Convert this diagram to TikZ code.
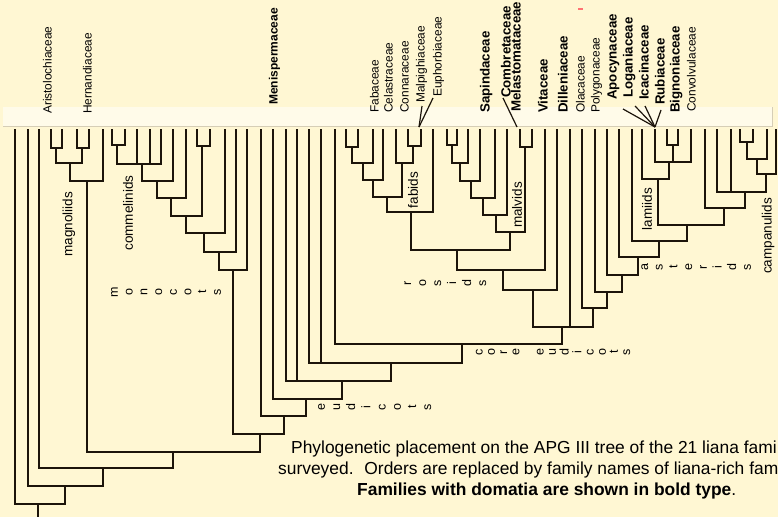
\documentclass[tikz,border=0pt]{standalone}
\usepackage{fontspec}
\setsansfont{Liberation Sans}
\definecolor{paper}{RGB}{255,247,211}
\definecolor{band}{RGB}{255,251,233}
\definecolor{bandedge}{RGB}{214,206,182}
\definecolor{ink}{RGB}{28,20,10}
\tikzset{
  branch/.style={line width=2.8pt, draw=ink, line join=miter},
  leader/.style={line width=1.2pt, draw=ink},
  fam/.style={rotate=90, anchor=west, inner sep=0pt, text height=0.72em, text depth=0.2em,
    font=\sffamily\fontsize{11.9}{12}\selectfont},
  bfam/.style={fam, font=\sffamily\bfseries\fontsize{13.3}{14}\selectfont},
  cladename/.style={rotate=90, inner sep=0pt, font=\sffamily\fontsize{13.5}{14}\selectfont},
  spread/.style={rotate=90, inner sep=0pt, font=\sffamily\fontsize{12.5}{#1}\selectfont},
  caption/.style={anchor=base west, inner sep=0pt, font=\sffamily\fontsize{17.4}{18}\selectfont}
}
\begin{document}
\begin{tikzpicture}[x=1pt,y=-1pt,font=\sffamily]
    \useasboundingbox (0,0) rectangle (778,517);
    \fill[paper] (0,0) rectangle (778,517);

    % header band behind the family names
    \fill[band] (3,107) rectangle (772,126);
    \draw[bandedge,line width=0.7pt] (3,126.5) -- (772,126.5) -- (772,107);
    \fill[red!55] (578,8) rectangle (583,10);

    % tips
    \foreach \n/\x in {amb/15, nym/28, aus/39, ari/51, mg2/62, mg3/77, her/89, chl/103,
        mo1/112, mo2/125, mo3/137, mo4/150, mo5/161, mo6/173, mo7/186, mo8/197, mo9/210,
        mo10/225, mo11/236, mo12/247, cer/261, men/273, eu1/286, eu2/297, eu3/309, eu4/321,
        eu5/335, fa1/346, fa2/358, fa3/373, fa4/383, fa5/396, fa6/408, fa7/421, fa8/433,
        ma1/447, ma2/457, ma3/468, ma4/480, ma5/495, ma6/507, ma7/520, ma8/532, vit/545,
        sax/557, dil/570, ola/582, pol/595, as1/607, as2/619, as3/632, la1/642, la2/655,
        la3/667, la4/678, la5/691, ca1/705, ca2/717, ca3/731, ca4/740, ca5/753, ca6/767, ca7/776}
      \coordinate (\n) at (\x,129);

    % clades
    \foreach \n/\x/\y in {m1/56/148, m2/82/148, m3/70/163, mag/87/181,
        c1/117/145, c2/142/164, c3/157/181, c4/171/198, c5/202/146, c6/186/216, c7/204/233,
        c8/219/252, mon/233/270,
        f1/352/147, f2/363/163, f3/373/180, f4/413/146, f5/402/163, f6/387/197, fab/411/212,
        v1/452/145, v2/460/163, v3/471/181, v4/483/198, v5/496/215, v6/525/147, mal/510/232,
        ros/457/250, r1/503/270, r2/533/290,
        l1/673/145, l2/669/162, lam/658/179, k1/747/142, k2/757/159, k3/766/174, k4/745/192,
        cam/724/208, a1/687/225, a2/659/241, ast/638/257, a3/622/275, a4/607/292, sup/593/308,
        core/562/327, e1/462/344, e2/391/363, e3/342/381, eud/306/399, e4/284/416, e5/260/434,
        e6/173/452, e7/103/468, e8/65/486, e9/38/504, root/38/517}
      \coordinate (\n) at (\x,\y);
    \coordinate (fa7top) at (419,127);
    \coordinate (ma7top) at (517,127);
    \coordinate (la2top) at (655,127);

    % family names
    \node[fam] (aris) at (49,114) {Aristolochiaceae};
    \node[fam] (hern) at (89,114) {Hernandiaceae};
    \node[bfam,font=\sffamily\bfseries\fontsize{12}{12}\selectfont] (meni) at (275,105) {Menispermaceae};
    \node[fam] (faba) at (376,113) {Fabaceae};
    \node[fam] (cela) at (390,113) {Celastraceae};
    \node[fam] (conn) at (406,113) {Connaraceae};
    \node[fam] (malp) at (422,103) {Malpighiaceae};
    \node[fam] (euph) at (439,97) {Euphorbiaceae};
    \node[bfam] (sapi) at (487,113) {Sapindaceae};
    \node[bfam] (comb) at (508,98) {Combretaceae};
    \node[bfam] (mela) at (518,112) {Melastomataceae};
    \node[bfam] (vita) at (545,113) {Vitaceae};
    \node[bfam] (dill) at (565,113) {Dilleniaceae};
    \node[fam] (olac) at (582,113) {Olacaceae};
    \node[fam] (poly) at (597,113) {Polygonaceae};
    \node[bfam] (apoc) at (614,100) {Apocynaceae};
    \node[bfam] (loga) at (630,98) {Loganiaceae};
    \node[bfam] (icac) at (646,100) {Icacinaceae};
    \node[bfam] (rubi) at (662,105) {Rubiaceae};
    \node[bfam] (bign) at (677,113) {Bignoniaceae};
    \node[fam] (conv) at (693,112) {Convolvulaceae};

    \draw[leader] ([shift={(0,3)}]malp.west) -- (fa7top);
    \draw[leader] ([shift={(-6,1)}]euph.west) -- (fa7top);
    \draw[leader] ([shift={(-5,0)}]comb.west) -- (ma7top);
    \draw[leader] ([shift={(9,9)}]apoc.west) -- (la2top);
    \draw[leader] ([shift={(5,8)}]loga.west) -- (la2top);
    \draw[leader] ([shift={(-1,6)}]icac.west) -- (la2top);
    \draw[leader] ([shift={(-1,5)}]rubi.west) -- (la2top);

    % clade names
    \node[cladename] (magn) at (69,224) {magnoliids};
    \node[cladename] (comm) at (128,213) {commelinids};
    \node[cladename] (fabi) at (413,190) {fabids};
    \node[cladename] (malv) at (517,205) {malvids};
    \node[cladename] (lami) at (647,209) {lamiids};
    \node[cladename] (camp) at (768,236) {campanulids};

    % stacked letters, turned on their side
    \node[spread=14.7] (mono) at (166.5,292) {\begin{tabular}{@{}c@{}}m\\o\\n\\o\\c\\o\\t\\s\end{tabular}};
    \node[spread=15] (rosi) at (445.5,283) {\begin{tabular}{@{}c@{}}r\\o\\s\\i\\d\\s\end{tabular}};
    \node[spread=14.7] (aste) at (696.5,267) {\begin{tabular}{@{}c@{}}a\\s\\t\\e\\r\\i\\d\\s\end{tabular}};
    \node[spread=12.2] (ceud) at (554,352) {\begin{tabular}{@{}c@{}}c\\o\\r\\e\\ \\e\\u\\d\\i\\c\\o\\t\\s\end{tabular}};
    \node[spread=15.2] (eudi) at (375,407) {\begin{tabular}{@{}c@{}}e\\u\\d\\i\\c\\o\\t\\s\end{tabular}};

    % branches, child to parent
    \foreach \c/\p in {ari/m1, mg2/m1, mg3/m2, her/m2, m1/m3, m2/m3, m3/mag, chl/mag,
        mo1/c1, mo2/c1, c1/c2, mo3/c2, mo4/c2, mo5/c2, c2/c3, mo6/c3, c3/c4, mo7/c4,
        mo8/c5, mo9/c5, c4/c6, c5/c6, c6/c7, mo10/c7, c7/c8, mo11/c8, c8/mon, mo12/mon,
        fa1/f1, fa2/f1, f1/f2, fa3/f2, f2/f3, fa4/f3, fa6/f4, fa7/f4, fa5/f5, f4/f5,
        f3/f6, f5/f6, f6/fab, fa8/fab,
        ma1/v1, ma2/v1, v1/v2, ma3/v2, v2/v3, ma4/v3, v3/v4, ma5/v4, v4/v5, ma6/v5,
        ma7/v6, ma8/v6, v5/mal, v6/mal,
        fab/ros, mal/ros, ros/r1, vit/r1, r1/r2, sax/r2,
        la3/l1, la4/l1, la2/l2, l1/l2, la5/l2, la1/lam, l2/lam,
        ca4/k1, ca5/k1, k1/k2, ca6/k2, k2/k3, ca7/k3, ca2/k4, ca3/k4, k3/k4, ca1/cam, k4/cam,
        lam/a1, cam/a1, as3/a2, a1/a2, as2/ast, a2/ast, as1/a3, ast/a3, pol/a4, a3/a4,
        ola/sup, a4/sup, r2/core, dil/core, sup/core,
        eu5/e1, core/e1, eu3/e2, eu4/e2, e1/e2, eu1/e3, eu2/e3, e2/e3, men/eud, e3/eud,
        cer/e4, eud/e4, mon/e5, e4/e5, mag/e6, e5/e6, aus/e7, e6/e7, nym/e8, e7/e8,
        amb/e9, e8/e9}
      \draw[branch] (\c) |- (\p);
    \draw[branch] (e9) -- (root);

    % caption, as far as the picture shows it
    \node[caption] (cap1) at (291,453) {Phylogenetic placement on the APG III tree of the 21 liana fami};
    \node[caption] (cap2) at (278,474) {surveyed.\hspace{0.25em} Orders are replaced by family names of liana-rich fam};
    \node[caption] (cap3) at (357,495) {\textbf{Families with domatia are shown in bold type}.};
\end{tikzpicture}
\end{document}
